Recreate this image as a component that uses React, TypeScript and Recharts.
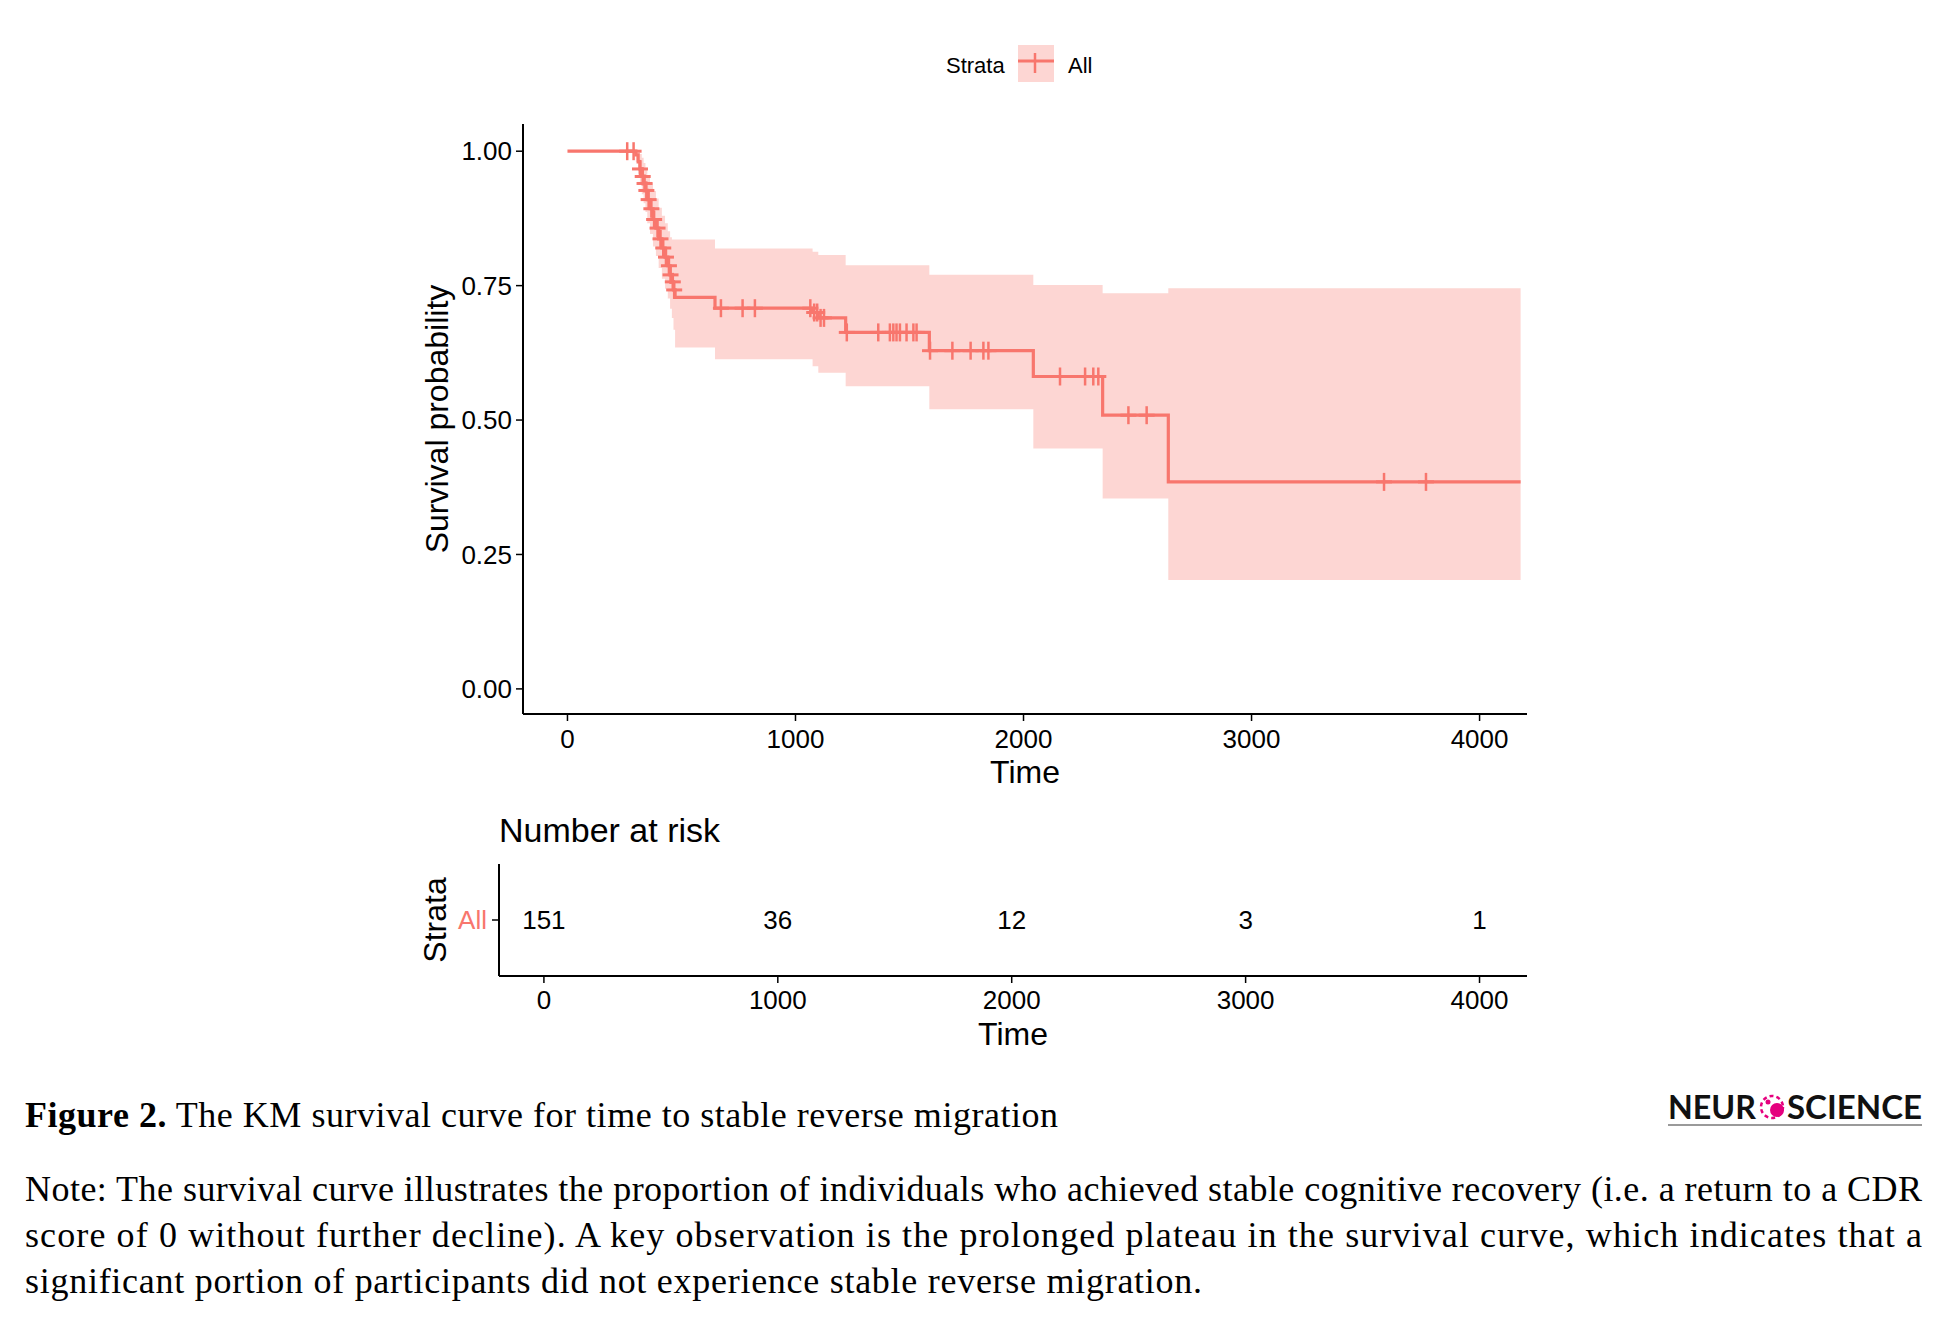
import React from 'react';
import { ComposedChart, Area, Line, Scatter, XAxis, YAxis, Label } from 'recharts';

// ---------- data ----------
const stepTimes = [0, 300, 310, 318, 326, 334, 342, 350, 362, 375, 388, 400, 414, 428, 440, 450, 458, 465, 472, 647, 1075, 1100, 1220, 1587, 2043, 2347, 2635, 4180];
const survival = [1.0, 0.993, 0.98, 0.967, 0.953, 0.94, 0.927, 0.91, 0.893, 0.873, 0.857, 0.837, 0.82, 0.803, 0.787, 0.77, 0.757, 0.742, 0.728, 0.708, 0.7, 0.69, 0.663, 0.629, 0.581, 0.509, 0.385, 0.385];
const upperCI = [1.0, 1.0, 1.0, 0.995, 0.988, 0.978, 0.968, 0.955, 0.942, 0.926, 0.912, 0.895, 0.88, 0.866, 0.851, 0.84, 0.836, 0.836, 0.836, 0.819, 0.813, 0.807, 0.788, 0.77, 0.751, 0.736, 0.745, 0.745];
const lowerCI = [1.0, 0.98, 0.958, 0.94, 0.92, 0.903, 0.887, 0.866, 0.846, 0.823, 0.805, 0.783, 0.763, 0.744, 0.726, 0.707, 0.69, 0.668, 0.635, 0.613, 0.6, 0.588, 0.563, 0.52, 0.447, 0.354, 0.2025, 0.2025];

const censorTimes = [262, 290, 318, 330, 338, 346, 356, 368, 380, 395, 408, 420, 432, 445, 452, 462, 468, 673, 768, 822, 1065, 1082, 1095, 1110, 1125, 1225, 1363, 1414, 1429, 1443, 1458, 1487, 1517, 1531, 1590, 1688, 1768, 1824, 1846, 2160, 2270, 2306, 2328, 2460, 2540, 3581, 3765];
const censorSurv = [1.0, 1.0, 0.967, 0.953, 0.94, 0.927, 0.91, 0.893, 0.873, 0.857, 0.837, 0.82, 0.803, 0.787, 0.77, 0.757, 0.742, 0.708, 0.708, 0.708, 0.708, 0.7, 0.7, 0.69, 0.69, 0.663, 0.663, 0.663, 0.663, 0.663, 0.663, 0.663, 0.663, 0.663, 0.629, 0.629, 0.629, 0.629, 0.629, 0.581, 0.581, 0.581, 0.581, 0.509, 0.509, 0.385, 0.385];

const xTicks = [0, 1000, 2000, 3000, 4000];
const yTicks = [0, 0.25, 0.5, 0.75, 1];
const strataNames = ['All'];
const riskTimes = [0, 1000, 2000, 3000, 4000];
const riskCounts = [151, 36, 12, 3, 1];

const curveData = stepTimes.map((t, i) => ({ t, s: survival[i], ci: [lowerCI[i], upperCI[i]] }));
const censorData = censorTimes.map((t, i) => ({ t, s: censorSurv[i] }));
const riskData = riskTimes.map((t, i) => ({ t, stratum: 1, n: riskCounts[i] }));

// ---------- style ----------
const RED = '#F8766D';
const SANS = "'Liberation Sans', Arial, Helvetica, sans-serif";
const SERIF = "'Liberation Serif', 'Times New Roman', serif";

function PlusMark(props: any) {
  const { cx, cy } = props;
  if (cx == null || cy == null) return null;
  return (
    <g>
      <line x1={cx - 8} y1={cy} x2={cx + 8} y2={cy} stroke={RED} strokeWidth={3} />
      <line x1={cx} y1={cy - 9} x2={cx} y2={cy + 9} stroke={RED} strokeWidth={2.5} />
    </g>
  );
}

function RiskCount(props: any) {
  const { cx, cy, payload } = props;
  if (cx == null || cy == null) return null;
  return (
    <text x={cx} y={cy} dy="0.36em" textAnchor="middle" fontSize={26} fontFamily={SANS} fill="#000">
      {payload.n}
    </text>
  );
}

const xTitle = (props: any) => {
  const vb = props.viewBox || {};
  return (
    <text x={vb.x + vb.width / 2} y={vb.y + 69} textAnchor="middle" fontSize={32} fontFamily={SANS} fill="#000">
      Time
    </text>
  );
};

const yTitle = (text: string, dist: number) => (props: any) => {
  const vb = props.viewBox || {};
  const x = vb.x + vb.width - dist;
  const y = vb.y + vb.height / 2;
  return (
    <text x={x} y={y} dy="0.36em" transform={`rotate(-90 ${x} ${y})`} textAnchor="middle" fontSize={32} fontFamily={SANS} fill="#000">
      {text}
    </text>
  );
};

const tickStyle = { fontSize: 26, fill: '#000', fontFamily: SANS };
const axisLineStyle = { stroke: '#000', strokeWidth: 2 };
const tickLineStyle = { stroke: '#000', strokeWidth: 1.5 };

export default function App() {
  return (
    <div style={{ position: 'absolute', left: 0, top: 0, width: 1933, height: 1320, background: '#fff', fontFamily: SANS, overflow: 'hidden' }}>
      {/* legend */}
      <svg style={{ position: 'absolute', left: 0, top: 0 }} width={1933} height={100}>
        <text x={946} y={73} fontSize={22} fontFamily={SANS} fill="#000">Strata</text>
        <rect x={1018} y={45} width={36} height={37} fill={RED} fillOpacity={0.3} />
        <line x1={1018} x2={1054} y1={61} y2={61} stroke={RED} strokeWidth={3} />
        <line x1={1035} x2={1035} y1={53} y2={73} stroke={RED} strokeWidth={2.5} />
        <text x={1068} y={73} fontSize={22} fontFamily={SANS} fill="#000">All</text>
      </svg>

      {/* survival plot */}
      <div style={{ position: 'absolute', left: 380, top: 100 }}>
        <ComposedChart width={1200} height={720} data={curveData} margin={{ top: 24, right: 53, bottom: 46, left: 63 }}>
          <XAxis type="number" dataKey="t" domain={[-195, 4208]} ticks={xTicks} allowDataOverflow height={60}
            tickSize={7} tickMargin={9} tick={tickStyle} axisLine={axisLineStyle} tickLine={tickLineStyle}>
            <Label content={xTitle} />
          </XAxis>
          <YAxis type="number" domain={[-0.0467, 1.0506]} ticks={yTicks} allowDataOverflow width={80}
            tickFormatter={(v: number) => v.toFixed(2)} tickSize={7} tickMargin={4} tick={tickStyle}
            axisLine={axisLineStyle} tickLine={tickLineStyle}>
            <Label content={yTitle('Survival probability', 87)} />
          </YAxis>
          <Area dataKey="ci" type="stepAfter" fill={RED} fillOpacity={0.3} stroke="none" isAnimationActive={false} />
          <Line dataKey="s" type="stepAfter" stroke={RED} strokeWidth={3.2} dot={false} activeDot={false} isAnimationActive={false} />
          <Scatter data={censorData} dataKey="s" shape={PlusMark} isAnimationActive={false} />
        </ComposedChart>
      </div>

      {/* number at risk title */}
      <div style={{ position: 'absolute', left: 499, top: 810, fontSize: 34, lineHeight: '40px', color: '#000', whiteSpace: 'nowrap' }}>
        Number at risk
      </div>

      {/* risk table */}
      <div style={{ position: 'absolute', left: 380, top: 840 }}>
        <ComposedChart width={1200} height={230} data={riskData} margin={{ top: 24, right: 53, bottom: 44, left: 20 }}>
          <XAxis type="number" dataKey="t" domain={[-192, 4203]} ticks={xTicks} allowDataOverflow height={50}
            tickSize={7} tickMargin={8} tick={tickStyle} axisLine={axisLineStyle} tickLine={tickLineStyle}>
            <Label content={xTitle} />
          </XAxis>
          <YAxis type="number" dataKey="stratum" domain={[0.5, 1.5]} ticks={[1]} width={99}
            tickFormatter={(v: number) => strataNames[v - 1]} tickSize={7} tickMargin={5}
            tick={{ ...tickStyle, fill: RED }} axisLine={axisLineStyle} tickLine={tickLineStyle}>
            <Label content={yTitle('Strata', 65)} />
          </YAxis>
          <Scatter dataKey="stratum" shape={RiskCount} isAnimationActive={false} />
        </ComposedChart>
      </div>

      {/* caption, note and logo */}
      <svg style={{ position: 'absolute', left: 0, top: 1060 }} width={1933} height={260}>
        <text x={25} y={67} fontSize={36} fontFamily={SERIF} fill="#000" textLength={1033} lengthAdjust="spacing">
          <tspan fontWeight="bold">Figure 2.</tspan> The KM survival curve for time to stable reverse migration
        </text>
        <text x={25} y={141} fontSize={36} fontFamily={SERIF} fill="#000" textLength={1897} lengthAdjust="spacing">
          Note: The survival curve illustrates the proportion of individuals who achieved stable cognitive recovery (i.e. a return to a CDR
        </text>
        <text x={25} y={187} fontSize={36} fontFamily={SERIF} fill="#000" textLength={1897} lengthAdjust="spacing">
          score of 0 without further decline). A key observation is the prolonged plateau in the survival curve, which indicates that a
        </text>
        <text x={25} y={233} fontSize={36} fontFamily={SERIF} fill="#000" textLength={1177} lengthAdjust="spacing">
          significant portion of participants did not experience stable reverse migration.
        </text>

        {/* logo */}
        <g>
          <text x={1668} y={59} fontSize={33} fontWeight="bold" fontFamily="Lato, 'DejaVu Sans', sans-serif" fill="#111" textLength={88} lengthAdjust="spacingAndGlyphs">NEUR</text>
          <circle cx={1772} cy={47} r={11} fill="none" stroke="#E5007E" strokeWidth={2.5} strokeDasharray="4 3" />
          <circle cx={1777} cy={50} r={7} fill="#E5007E" />
          <circle cx={1768} cy={42} r={2.5} fill="#E5007E" />
          <text x={1787} y={59} fontSize={33} fontWeight="bold" fontFamily="Lato, 'DejaVu Sans', sans-serif" fill="#111" textLength={135} lengthAdjust="spacingAndGlyphs">SCIENCE</text>
          <line x1={1668} x2={1922} y1={65} y2={65} stroke="#9a9a9a" strokeWidth={2} />
        </g>
      </svg>
    </div>
  );
}
